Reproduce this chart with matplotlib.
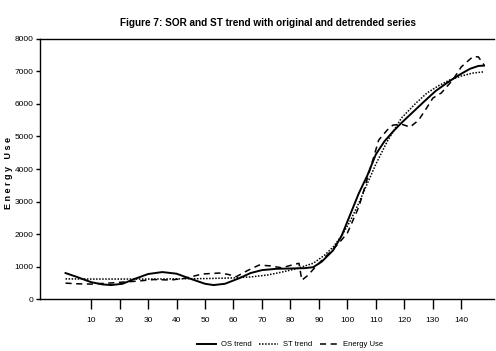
import matplotlib
matplotlib.use("Agg")
import matplotlib.pyplot as plt

plt.rcParams['font.family'] = ['Liberation Sans', 'DejaVu Sans']

# -------------------------
# Data
# -------------------------

os_x = [1, 5, 10, 14, 17, 21, 25, 30, 35, 40, 45, 50, 53, 57, 62, 66, 70, 75, 80, 85, 88,
        91, 95, 98, 101, 104, 107, 110, 113, 116, 119, 123, 127, 131, 135, 139, 143, 146, 148]
os_y = [800, 680, 520, 450, 430, 470, 610, 770, 830, 780, 620, 470, 430, 470, 640, 800, 890, 930, 940, 950, 980,
        1150, 1500, 1950, 2600, 3250, 3800, 4450, 4850, 5150, 5420, 5750, 6080, 6400, 6650, 6880, 7080, 7170, 7180]

st_x = [1, 10, 20, 30, 40, 50, 60, 66, 72, 77, 82, 88, 92, 95, 98, 101, 104, 107, 110, 114,
        119, 124, 128, 132, 136, 140, 144, 148]
st_y = [620, 615, 615, 615, 620, 630, 650, 680, 740, 830, 930, 1100, 1350, 1600, 1950, 2400, 2950, 3550, 4150, 4850,
        5570, 6020, 6340, 6560, 6740, 6860, 6950, 6990]

eu_x = [1, 5, 10, 16, 21, 26, 32, 38, 43, 49, 55, 58, 61, 65, 69, 73, 77, 81, 83, 84, 86,
        90, 94, 97, 100, 104, 107, 111, 114, 116, 119, 122, 125, 128, 130, 133, 137, 140, 144, 146, 148]
eu_y = [490, 470, 460, 490, 520, 550, 600, 585, 640, 770, 800, 760, 690, 880, 1045, 1020, 960, 1060, 1100, 580, 720,
        1100, 1450, 1720, 2030, 2830, 3700, 4890, 5200, 5350, 5380, 5290, 5500, 5900, 6180, 6340, 6740, 7140, 7450, 7450, 7200]

xticks = [10, 20, 30, 40, 50, 60, 70, 80, 90, 100, 110, 120, 130, 140]
yticks = [0, 1000, 2000, 3000, 4000, 5000, 6000, 7000, 8000]

# -------------------------
# Plot
# -------------------------

fig = plt.figure(figsize=(4.96, 3.51), dpi=100)
ax = fig.add_axes([0.081, 0.148, 0.915, 0.741])

ax.plot(os_x, os_y, color='black', linewidth=1.4, linestyle='-', label='OS trend')
ax.plot(st_x, st_y, color='black', linewidth=1.1, linestyle=(0, (1, 1)), label='ST trend')
ax.plot(eu_x, eu_y, color='black', linewidth=1.1, linestyle=(0, (4, 3)), label='Energy Use')

ax.set_xlim(-7.9, 151.5)
ax.set_ylim(0, 8000)
ax.set_xticks(xticks)
ax.set_yticks(yticks)
ax.tick_params(axis='x', direction='out', length=7, width=1, labelsize=6, pad=6)
ax.tick_params(axis='y', direction='out', length=3, width=1, labelsize=6, pad=2)

ax.spines['right'].set_visible(False)
for s in ['left', 'top', 'bottom']:
    ax.spines[s].set_linewidth(1.0)

fig.text(0.54, 0.935, 'Figure 7: SOR and ST trend with original and detrended series',
         ha='center', va='center', fontsize=7.2, fontweight='bold')

fig.text(0.018, 0.507, 'E n e r g y   U s e', rotation=90, ha='center', va='center',
         fontsize=6.5, fontweight='bold')

fig.legend(loc='center', bbox_to_anchor=(0.585, 0.018), ncol=3, frameon=False,
           fontsize=5.5, handlelength=2.5, handletextpad=0.6, columnspacing=1.0)

fig.savefig('out.png', dpi=100)
